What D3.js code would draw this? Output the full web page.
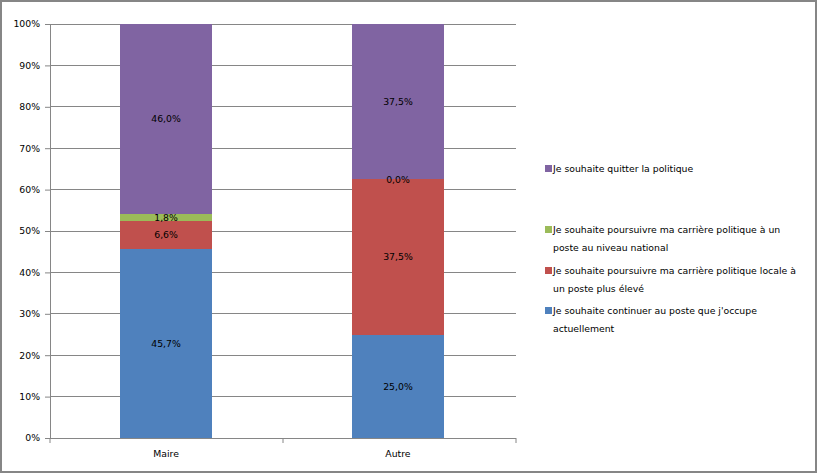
<!DOCTYPE html>
<html>
<head>
<meta charset="utf-8">
<script src="https://cdn.jsdelivr.net/npm/d3@7"></script>
<style>
  body { margin: 0; background: #fff; }
  text { font-family: "DejaVu Sans", Verdana, sans-serif; font-size: 9.3px; fill: #000; }
</style>
</head>
<body>
<div id="chart"></div>
<script>
// data
var categories = ['Maire', 'Autre'];
var seriesNames = [
    'Je souhaite continuer au poste que j\'occupe actuellement',
    'Je souhaite poursuivre ma carrière politique locale à un poste plus élevé',
    'Je souhaite poursuivre ma carrière politique à un poste au niveau national',
    'Je souhaite quitter la politique'
];
var continuer = [45.7, 25.0];
var locale = [6.6, 37.5];
var national = [1.8, 0.0];
var quitter = [46.0, 37.5];
var yTicks = [0, 10, 20, 30, 40, 50, 60, 70, 80, 90, 100];
// legend lines (wrapped as in the picture)
var legendLines = [
    ['Je souhaite quitter la politique'],
    ['Je souhaite poursuivre ma carrière politique à un', 'poste au niveau national'],
    ['Je souhaite poursuivre ma carrière politique locale à', 'un poste plus élevé'],
    ['Je souhaite continuer au poste que j\'occupe', 'actuellement']
];
var colors = ['#4F81BD', '#C0504D', '#9BBB59', '#8064A2'];
//end data

var width = 818, height = 474;
var svg = d3.select('#chart').append('svg')
    .attr('width', width)
    .attr('height', height);

// outer border
svg.append('rect')
    .attr('x', 1).attr('y', 1)
    .attr('width', width - 3).attr('height', height - 3)
    .attr('fill', '#fff')
    .attr('stroke', '#868686')
    .attr('stroke-width', 2);

var plot = {left: 50, right: 516, top: 24, bottom: 438};

var x = d3.scaleBand()
    .domain(categories)
    .range([plot.left, plot.right - 2])
    .paddingInner(0.6034)
    .paddingOuter(0.302);

var y = d3.scaleLinear()
    .domain([0, 100])
    .range([plot.bottom, plot.top]);

// gridlines
svg.append('g').selectAll('line')
    .data(yTicks.slice(1))
    .enter().append('line')
    .attr('x1', plot.left).attr('x2', plot.right)
    .attr('y1', function(d){ return y(d); })
    .attr('y2', function(d){ return y(d); })
    .attr('stroke', '#868686')
    .attr('stroke-width', 1)
    .attr('shape-rendering', 'crispEdges');

// stacked bars
var rows = categories.map(function(c, i){
    return {cat: c, s0: continuer[i], s1: locale[i], s2: national[i], s3: quitter[i]};
});
var stack = d3.stack().keys(['s0', 's1', 's2', 's3']);
var stacked = stack(rows);

var layers = svg.append('g').selectAll('g')
    .data(stacked)
    .enter().append('g')
    .attr('fill', function(d, i){ return colors[i]; });

layers.selectAll('rect')
    .data(function(d){ return d; })
    .enter().append('rect')
    .attr('x', function(d){ return x(d.data.cat); })
    .attr('width', x.bandwidth())
    .attr('y', function(d){ return y(Math.min(d[1], 100)); })
    .attr('height', function(d){ return y(d[0]) - y(Math.min(d[1], 100)); })
    .attr('shape-rendering', 'crispEdges');

// value labels, drawn after all bars
var fmt = function(v){ return v.toFixed(1).replace('.', ',') + '%'; };
var labelData = [];
stacked.forEach(function(layer){
    layer.forEach(function(d){ labelData.push(d); });
});
svg.append('g').selectAll('text')
    .data(labelData)
    .enter().append('text')
    .attr('x', function(d){ return x(d.data.cat) + x.bandwidth() / 2; })
    .attr('y', function(d){ return y((d[0] + Math.min(d[1], 100)) / 2); })
    .attr('dy', '0.35em')
    .attr('text-anchor', 'middle')
    .text(function(d){ return fmt(d[1] - d[0]); });

// y axis
var yAxis = svg.append('g')
    .attr('transform', 'translate(' + plot.left + ',0)')
    .call(d3.axisLeft(y).tickValues(yTicks).tickSize(5).tickPadding(5)
        .tickFormat(function(d){ return d + '%'; }));
yAxis.select('.domain').attr('stroke', '#868686');
yAxis.selectAll('.tick line').attr('stroke', '#868686');
yAxis.selectAll('.tick text').attr('font-family', null).attr('font-size', null);

// x axis
var xAxis = svg.append('g')
    .attr('transform', 'translate(0,' + plot.bottom + ')')
    .call(d3.axisBottom(x).tickSize(0).tickPadding(12));
xAxis.select('.domain').attr('stroke', '#868686')
    .attr('d', 'M' + plot.left + ',0.5H' + plot.right);
xAxis.selectAll('.tick text').attr('font-family', null).attr('font-size', null);
var xEdges = [plot.left, (plot.left + plot.right) / 2, plot.right];
xAxis.selectAll('.edge')
    .data(xEdges)
    .enter().append('line')
    .attr('x1', function(d){ return d; }).attr('x2', function(d){ return d; })
    .attr('y1', 0).attr('y2', 5)
    .attr('stroke', '#868686');

// legend
var legend = svg.append('g').attr('transform', 'translate(545,0)');
var legendY = [169, 230, 271, 311];
var legendColors = [colors[3], colors[2], colors[1], colors[0]];
legendLines.forEach(function(lines, i){
    var g = legend.append('g').attr('transform', 'translate(0,' + legendY[i] + ')');
    g.append('rect')
        .attr('x', 0).attr('y', -4)
        .attr('width', 7).attr('height', 7)
        .attr('fill', legendColors[i]);
    g.selectAll('text')
        .data(lines)
        .enter().append('text')
        .attr('x', 8)
        .attr('y', function(d, j){ return j * 18; })
        .attr('dy', '0.35em')
        .text(function(d){ return d; });
});
</script>
</body>
</html>
